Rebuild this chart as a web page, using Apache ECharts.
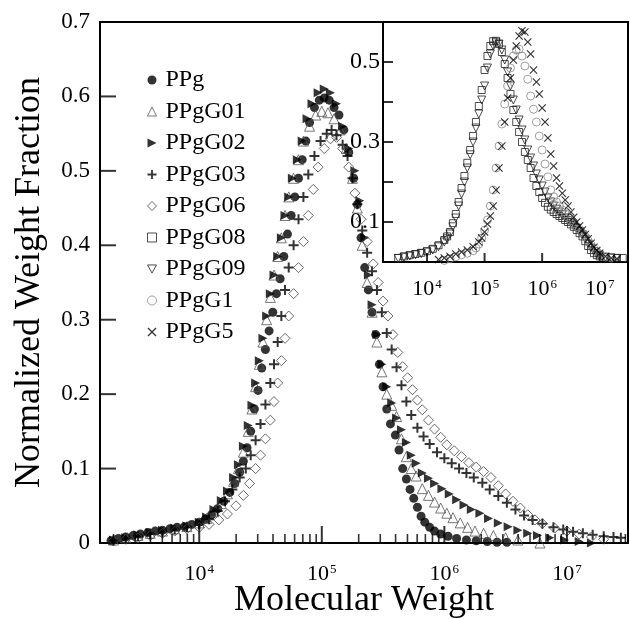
<!DOCTYPE html>
<html>
<head>
<meta charset="utf-8">
<script src="https://cdn.jsdelivr.net/npm/echarts@6/dist/echarts.min.js"></script>
<style>
  html, body { margin: 0; padding: 0; background: #fff; }
  #chart { width: 630px; height: 619px; }
</style>
</head>
<body>
<div id="chart"></div>
<script>
// data: [log10(M), normalized weight fraction]
const PPG = [[3.28,0.003],[3.34,0.006],[3.4,0.008],[3.46,0.01],[3.52,0.012],[3.58,0.014],[3.64,0.016],[3.7,0.017],[3.76,0.019],[3.82,0.021],[3.88,0.022],[3.94,0.025],[4.0,0.028],[4.05,0.032],[4.1,0.038],[4.15,0.046],[4.2,0.056],[4.25,0.068],[4.29,0.08],[4.33,0.095],[4.36,0.11],[4.39,0.128],[4.42,0.15],[4.45,0.18],[4.48,0.205],[4.51,0.235],[4.54,0.26],[4.57,0.285],[4.6,0.31],[4.63,0.335],[4.66,0.355],[4.69,0.385],[4.72,0.415],[4.75,0.44],[4.78,0.465],[4.81,0.49],[4.84,0.515],[4.87,0.54],[4.9,0.565],[4.94,0.585],[4.98,0.595],[5.02,0.598],[5.06,0.595],[5.1,0.585],[5.14,0.575],[5.18,0.555],[5.22,0.525],[5.26,0.49],[5.29,0.455],[5.32,0.41],[5.35,0.37],[5.38,0.34],[5.41,0.31],[5.44,0.28],[5.47,0.24],[5.5,0.21],[5.53,0.18],[5.56,0.16],[5.6,0.145],[5.63,0.125],[5.66,0.1],[5.69,0.086],[5.72,0.072],[5.75,0.06],[5.78,0.048],[5.81,0.036],[5.84,0.028],[5.88,0.021],[5.92,0.016],[5.97,0.012],[6.03,0.009],[6.1,0.006],[6.18,0.004],[6.26,0.003],[6.35,0.002],[6.43,0.001],[6.51,0.001]];

const G01 = [[3.3,0.004],[3.4,0.007],[3.5,0.01],[3.6,0.013],[3.7,0.016],[3.8,0.019],[3.9,0.022],[4.0,0.027],[4.06,0.033],[4.12,0.042],[4.18,0.053],[4.23,0.066],[4.28,0.083],[4.32,0.1],[4.36,0.122],[4.4,0.15],[4.43,0.18],[4.46,0.21],[4.49,0.24],[4.52,0.27],[4.55,0.3],[4.58,0.33],[4.61,0.36],[4.64,0.385],[4.67,0.41],[4.7,0.44],[4.73,0.465],[4.77,0.49],[4.81,0.515],[4.85,0.54],[4.9,0.56],[4.95,0.575],[5.0,0.58],[5.05,0.578],[5.1,0.57],[5.15,0.555],[5.2,0.53],[5.25,0.49],[5.29,0.45],[5.33,0.4],[5.37,0.35],[5.41,0.31],[5.45,0.27],[5.49,0.23],[5.53,0.2],[5.57,0.185],[5.61,0.17],[5.65,0.14],[5.69,0.116],[5.73,0.1],[5.77,0.09],[5.82,0.073],[5.87,0.064],[5.92,0.055],[5.97,0.047],[6.02,0.04],[6.07,0.034],[6.13,0.027],[6.19,0.021],[6.25,0.016],[6.32,0.013],[6.4,0.01],[6.5,0.007],[6.6,0.004],[6.78,0.0]];

const G02 = [[3.3,0.004],[3.4,0.007],[3.5,0.011],[3.6,0.014],[3.7,0.017],[3.8,0.02],[3.9,0.023],[4.0,0.028],[4.06,0.035],[4.12,0.045],[4.18,0.057],[4.23,0.07],[4.28,0.088],[4.32,0.105],[4.36,0.13],[4.4,0.158],[4.43,0.185],[4.46,0.215],[4.49,0.245],[4.52,0.275],[4.55,0.305],[4.58,0.335],[4.61,0.36],[4.64,0.385],[4.67,0.41],[4.7,0.44],[4.73,0.465],[4.76,0.49],[4.8,0.515],[4.84,0.54],[4.88,0.57],[4.92,0.59],[4.97,0.605],[5.02,0.61],[5.07,0.605],[5.12,0.59],[5.17,0.56],[5.22,0.53],[5.27,0.5],[5.31,0.46],[5.35,0.41],[5.38,0.36],[5.41,0.32],[5.45,0.28],[5.49,0.24],[5.53,0.21],[5.57,0.188],[5.61,0.168],[5.65,0.152],[5.69,0.135],[5.73,0.118],[5.77,0.107],[5.82,0.094],[5.87,0.087],[5.92,0.08],[5.98,0.073],[6.04,0.066],[6.1,0.058],[6.16,0.051],[6.22,0.045],[6.29,0.04],[6.36,0.033],[6.44,0.027],[6.52,0.022],[6.6,0.017],[6.68,0.013],[6.76,0.01],[6.86,0.007],[6.98,0.004],[7.1,0.002],[7.2,0.0]];

const G03 = [[3.3,0.003],[3.4,0.006],[3.5,0.009],[3.6,0.012],[3.7,0.015],[3.8,0.018],[3.9,0.021],[4.0,0.025],[4.08,0.032],[4.15,0.043],[4.21,0.056],[4.27,0.072],[4.33,0.088],[4.38,0.1],[4.42,0.118],[4.46,0.138],[4.5,0.16],[4.54,0.186],[4.58,0.215],[4.61,0.24],[4.64,0.27],[4.67,0.305],[4.7,0.34],[4.73,0.37],[4.77,0.4],[4.81,0.435],[4.85,0.465],[4.89,0.495],[4.94,0.52],[4.99,0.54],[5.04,0.55],[5.08,0.555],[5.12,0.548],[5.17,0.535],[5.21,0.52],[5.25,0.49],[5.29,0.455],[5.33,0.42],[5.37,0.39],[5.41,0.365],[5.45,0.34],[5.49,0.31],[5.53,0.282],[5.57,0.26],[5.61,0.236],[5.65,0.212],[5.69,0.19],[5.73,0.172],[5.78,0.155],[5.83,0.143],[5.88,0.133],[5.94,0.122],[6.0,0.114],[6.06,0.107],[6.12,0.1],[6.18,0.094],[6.24,0.088],[6.31,0.081],[6.37,0.072],[6.44,0.063],[6.51,0.054],[6.58,0.045],[6.65,0.037],[6.72,0.031],[6.8,0.026],[6.89,0.021],[6.97,0.018],[7.05,0.015],[7.13,0.013],[7.21,0.011],[7.3,0.009],[7.38,0.008],[7.44,0.007]];

const G06 = [[3.3,0.003],[3.4,0.005],[3.5,0.007],[3.6,0.01],[3.7,0.013],[3.8,0.016],[3.9,0.019],[4.0,0.021],[4.08,0.025],[4.16,0.031],[4.23,0.039],[4.3,0.05],[4.36,0.064],[4.41,0.08],[4.46,0.1],[4.5,0.118],[4.54,0.14],[4.58,0.165],[4.61,0.19],[4.64,0.215],[4.67,0.245],[4.7,0.275],[4.73,0.305],[4.77,0.335],[4.81,0.37],[4.85,0.405],[4.89,0.44],[4.93,0.475],[4.97,0.505],[5.02,0.53],[5.07,0.543],[5.12,0.545],[5.17,0.53],[5.22,0.505],[5.27,0.47],[5.32,0.435],[5.37,0.405],[5.42,0.375],[5.46,0.35],[5.5,0.325],[5.54,0.305],[5.58,0.28],[5.62,0.256],[5.66,0.237],[5.7,0.222],[5.74,0.206],[5.78,0.192],[5.82,0.179],[5.87,0.165],[5.92,0.153],[5.97,0.142],[6.02,0.132],[6.08,0.124],[6.14,0.116],[6.2,0.108],[6.26,0.102],[6.32,0.096],[6.38,0.088],[6.44,0.077],[6.5,0.066],[6.56,0.056],[6.62,0.047],[6.68,0.038],[6.74,0.031],[6.8,0.026],[6.9,0.02],[7.0,0.016],[7.1,0.012],[7.2,0.008],[7.3,0.005]];

// inset
const G08 = [[3.5,0.01],[3.6,0.014],[3.7,0.017],[3.8,0.02],[3.9,0.023],[4.0,0.027],[4.1,0.033],[4.2,0.042],[4.3,0.055],[4.35,0.064],[4.4,0.075],[4.45,0.097],[4.5,0.12],[4.55,0.15],[4.6,0.185],[4.65,0.215],[4.7,0.248],[4.75,0.28],[4.8,0.315],[4.85,0.35],[4.9,0.39],[4.95,0.43],[5.0,0.48],[5.05,0.515],[5.1,0.54],[5.15,0.552],[5.2,0.553],[5.25,0.545],[5.3,0.525],[5.35,0.495],[5.4,0.46],[5.45,0.42],[5.5,0.38],[5.55,0.35],[5.6,0.325],[5.65,0.3],[5.7,0.275],[5.75,0.255],[5.8,0.235],[5.85,0.21],[5.9,0.19],[5.95,0.175],[6.0,0.16],[6.05,0.148],[6.1,0.138],[6.15,0.131],[6.2,0.125],[6.25,0.12],[6.3,0.115],[6.35,0.11],[6.4,0.105],[6.45,0.1],[6.5,0.094],[6.55,0.088],[6.6,0.08],[6.65,0.072],[6.7,0.064],[6.75,0.052],[6.8,0.04],[6.85,0.03],[6.9,0.022],[6.95,0.017],[7.0,0.014],[7.1,0.012],[7.2,0.011],[7.3,0.01],[7.4,0.01]];

const G09 = [[3.5,0.009],[3.6,0.012],[3.7,0.015],[3.8,0.018],[3.9,0.021],[4.0,0.025],[4.1,0.03],[4.2,0.038],[4.3,0.05],[4.35,0.058],[4.4,0.07],[4.45,0.088],[4.5,0.11],[4.55,0.14],[4.6,0.17],[4.65,0.2],[4.7,0.235],[4.75,0.268],[4.8,0.3],[4.85,0.335],[4.9,0.37],[4.95,0.405],[5.0,0.44],[5.05,0.485],[5.1,0.52],[5.15,0.54],[5.2,0.548],[5.25,0.545],[5.3,0.53],[5.35,0.505],[5.4,0.475],[5.45,0.44],[5.5,0.405],[5.55,0.38],[5.6,0.355],[5.65,0.33],[5.7,0.305],[5.75,0.28],[5.8,0.26],[5.85,0.24],[5.9,0.22],[5.95,0.205],[6.0,0.19],[6.05,0.175],[6.1,0.16],[6.15,0.15],[6.2,0.14],[6.25,0.132],[6.3,0.125],[6.35,0.118],[6.4,0.11],[6.45,0.104],[6.5,0.098],[6.55,0.091],[6.6,0.084],[6.65,0.076],[6.7,0.068],[6.75,0.057],[6.8,0.045],[6.85,0.035],[6.9,0.026],[6.95,0.02],[7.0,0.016],[7.1,0.012],[7.2,0.01],[7.3,0.009]];

const G1 = [[4.3,0.004],[4.4,0.008],[4.5,0.013],[4.6,0.018],[4.7,0.022],[4.8,0.028],[4.85,0.035],[4.9,0.045],[4.95,0.06],[5.0,0.08],[5.05,0.105],[5.1,0.14],[5.15,0.18],[5.2,0.235],[5.25,0.29],[5.3,0.345],[5.35,0.395],[5.4,0.44],[5.45,0.485],[5.5,0.515],[5.55,0.53],[5.6,0.532],[5.65,0.515],[5.7,0.49],[5.75,0.457],[5.8,0.415],[5.85,0.382],[5.9,0.35],[5.95,0.315],[6.0,0.28],[6.05,0.245],[6.1,0.213],[6.15,0.18],[6.2,0.163],[6.25,0.15],[6.3,0.14],[6.35,0.13],[6.4,0.12],[6.45,0.111],[6.5,0.103],[6.55,0.096],[6.6,0.089],[6.65,0.081],[6.7,0.073],[6.75,0.063],[6.8,0.053],[6.85,0.043],[6.9,0.034],[6.95,0.026],[7.0,0.02],[7.1,0.013],[7.2,0.01]];

const G5 = [[4.2,0.006],[4.3,0.01],[4.4,0.014],[4.5,0.02],[4.6,0.025],[4.7,0.03],[4.8,0.038],[4.9,0.05],[4.95,0.06],[5.0,0.075],[5.05,0.095],[5.1,0.115],[5.15,0.14],[5.2,0.18],[5.25,0.235],[5.3,0.29],[5.35,0.35],[5.4,0.41],[5.45,0.46],[5.5,0.505],[5.55,0.54],[5.6,0.565],[5.65,0.578],[5.7,0.575],[5.75,0.55],[5.8,0.52],[5.85,0.48],[5.9,0.45],[5.95,0.42],[6.0,0.385],[6.05,0.35],[6.1,0.31],[6.15,0.27],[6.2,0.24],[6.25,0.21],[6.3,0.19],[6.35,0.172],[6.4,0.155],[6.45,0.14],[6.5,0.125],[6.55,0.112],[6.6,0.1],[6.65,0.09],[6.7,0.08],[6.75,0.069],[6.8,0.058],[6.85,0.047],[6.9,0.037],[6.95,0.029],[7.0,0.022],[7.1,0.014],[7.2,0.01],[7.3,0.008]];

const MAIN_SERIES = ['PPg', 'PPgG01', 'PPgG02', 'PPgG03', 'PPgG06'];
const INSET_SERIES = ['PPgG08', 'PPgG09', 'PPgG1', 'PPgG5'];
const LEGEND_NAMES = ['PPg', 'PPgG01', 'PPgG02', 'PPgG03', 'PPgG06', 'PPgG08', 'PPgG09', 'PPgG1', 'PPgG5'];
const DATA = { PPg: PPG, PPgG01: G01, PPgG02: G02, PPgG03: G03, PPgG06: G06, PPgG08: G08, PPgG09: G09, PPgG1: G1, PPgG5: G5 };

const X_MIN = 1550, X_MAX = 3.15e7;       // main axis range
const XI_MIN = 1720, XI_MAX = 3.1e7;      // inset axis range

const FONT = "'Liberation Serif', 'Times New Roman', serif";

const RIGHT_TRI = 'path://M0,0L10,5L0,10Z';
const DOWN_TRI = 'path://M0,0L10,0L5,9Z';
const PLUS = 'path://M4,0H6V4H10V6H6V10H4V6H0V4H4Z';
const CROSS = 'path://M1,0L5,4L9,0L10,1L6,5L10,9L9,10L5,6L1,10L0,9L4,5L0,1Z';

const MARKERS = {
  PPg: { symbol: 'circle', size: 9, fill: '#000' },
  PPgG01: { symbol: 'triangle', size: 10, stroke: '#555' },
  PPgG02: { symbol: RIGHT_TRI, size: 9, fill: '#000' },
  PPgG03: { symbol: PLUS, size: 10, fill: '#000' },
  PPgG06: { symbol: 'diamond', size: 10, stroke: '#444' },
  PPgG08: { symbol: 'rect', size: 7, stroke: '#222' },
  PPgG09: { symbol: DOWN_TRI, size: 8, stroke: '#222' },
  PPgG1: { symbol: 'circle', size: 8, stroke: '#888' },
  PPgG5: { symbol: CROSS, size: 8, fill: '#000' },
};

const itemStyleOf = (m) =>
  m.fill
    ? { color: m.fill }
    : { color: 'rgba(0,0,0,0)', borderColor: m.stroke, borderWidth: 1 };

const toPoints = (arr) => arr.map(([lg, v]) => [Math.pow(10, lg), v]);

// tick positions of the main log axis: decades and 2..9 x 10^n
const majorTicks = [];
const minorTicks = [];
for (let e = 3; e <= 7; e++) {
  for (let k = 1; k <= 9; k++) {
    const v = k * Math.pow(10, e);
    if (v > X_MIN && v < X_MAX) (k === 1 ? majorTicks : minorTicks).push([v, 0]);
  }
}
const insetTicks = [1e4, 1e5, 1e6, 1e7].map((v) => [v, 0]);
const yTicks = [0.1, 0.2, 0.3, 0.4, 0.5, 0.6].map((v) => [X_MIN, v]);
const yInsetTicks = [0.1, 0.2, 0.3, 0.4, 0.5].map((v) => [XI_MIN, v]);

const powLabel = (value) => {
  const e = Math.log10(value);
  if (Math.abs(e - Math.round(e)) > 1e-6) return '';
  return '{b|10}{e|' + Math.round(e) + '}';
};

const logAxis = (gridIndex, min, max, size, supSize, margin) => ({
  type: 'log',
  logBase: 10,
  gridIndex,
  min,
  max,
  axisLine: { show: true, onZero: false, lineStyle: { color: '#000', width: 2 } },
  axisTick: { show: false },
  splitLine: { show: false },
  minorTick: { show: false },
  axisLabel: {
    margin,
    formatter: powLabel,
    rich: {
      b: { fontSize: size, fontFamily: FONT, color: '#000', verticalAlign: 'bottom' },
      e: { fontSize: supSize, fontFamily: FONT, color: '#000', verticalAlign: 'top', padding: [0, 0, 0, 1] },
    },
  },
});

// tick marks drawn as thin rect symbols anchored on the axis
const tickSeries = (xi, yi, data, w, h, vertical) => ({
  type: 'scatter',
  xAxisIndex: xi,
  yAxisIndex: yi,
  silent: true,
  clip: false,
  symbol: 'rect',
  symbolSize: vertical ? [w, h] : [h, w],
  symbolOffset: vertical ? [0, -h / 2] : [h / 2, 0],
  itemStyle: { color: '#000' },
  data,
  z: 3,
});

const chart = echarts.init(document.getElementById('chart'), null, { renderer: 'canvas' });

const series = [];
MAIN_SERIES.forEach((name) => {
  const m = MARKERS[name];
  series.push({
    name, type: 'scatter', xAxisIndex: 0, yAxisIndex: 0,
    symbol: m.symbol, symbolSize: m.size,
    itemStyle: itemStyleOf(m),
    data: toPoints(DATA[name]),
    silent: true,
  });
});
INSET_SERIES.forEach((name) => {
  const m = MARKERS[name];
  series.push({
    name, type: 'scatter', xAxisIndex: 1, yAxisIndex: 1,
    symbol: m.symbol, symbolSize: m.size,
    itemStyle: itemStyleOf(m),
    data: toPoints(DATA[name]),
    silent: true,
  });
});
series.push(tickSeries(0, 0, majorTicks, 2, 17, true));
series.push(tickSeries(0, 0, minorTicks, 1.6, 9, true));
series.push(tickSeries(0, 0, yTicks, 2, 16, false));
series.push(tickSeries(1, 1, insetTicks, 2, 9, true));
series.push(tickSeries(1, 1, yInsetTicks, 2, 10, false));

const option = {
  backgroundColor: '#fff',
  animation: false,
  textStyle: { fontFamily: FONT },
  grid: [
    { left: 100, right: 2, top: 22, bottom: 76, show: true, borderColor: '#000', borderWidth: 2, outerBoundsMode: 'none', containLabel: false },
    { left: 383, right: 2, top: 22, bottom: 357, show: true, borderColor: '#000', borderWidth: 2, outerBoundsMode: 'none', containLabel: false },
  ],
  legend: {
    orient: 'vertical',
    left: 142,
    top: 63,
    itemWidth: 9,
    itemHeight: 9,
    itemGap: 7.5,
    selectedMode: false,
    textStyle: { fontSize: 24, fontFamily: FONT, color: '#000', lineHeight: 24, padding: [0, 0, 0, 4] },
    data: LEGEND_NAMES.map((name) => ({
      name,
      icon: MARKERS[name].symbol,
      itemStyle: itemStyleOf(MARKERS[name]),
    })),
  },
  xAxis: [
    Object.assign(logAxis(0, X_MIN, X_MAX, 22, 13, 20), {
      name: 'Molecular Weight',
      nameLocation: 'middle',
      nameGap: 40,
      nameMoveOverlap: false,
      nameTextStyle: { fontSize: 36, fontFamily: FONT, color: '#000' },
    }),
    logAxis(1, XI_MIN, XI_MAX, 22, 13, 16),
  ],
  yAxis: [
    {
      type: 'value', gridIndex: 0, min: 0, max: 0.7, interval: 0.1,
      name: 'Normalized Weight Fraction',
      nameLocation: 'middle',
      nameGap: 52,
      nameMoveOverlap: false,
      nameTextStyle: { fontSize: 36, fontFamily: FONT, color: '#000' },
      axisLine: { show: true, lineStyle: { color: '#000', width: 2 } },
      axisTick: { show: false },
      splitLine: { show: false },
      axisLabel: { margin: 10, fontSize: 23, fontFamily: FONT, color: '#000' },
    },
    {
      type: 'value', gridIndex: 1, min: 0, max: 0.6, interval: 0.1,
      axisLine: { show: true, lineStyle: { color: '#000', width: 2 } },
      axisTick: { show: false },
      splitLine: { show: false },
      axisLabel: {
        margin: 3, fontSize: 24, fontFamily: FONT, color: '#000',
        formatter: (v) => ([0.1, 0.3, 0.5].some((t) => Math.abs(v - t) < 1e-6) ? String(v) : ''),
      },
    },
  ],
  series,
};

chart.setOption(option);
window.addEventListener('resize', () => chart.resize());
</script>
</body>
</html>
